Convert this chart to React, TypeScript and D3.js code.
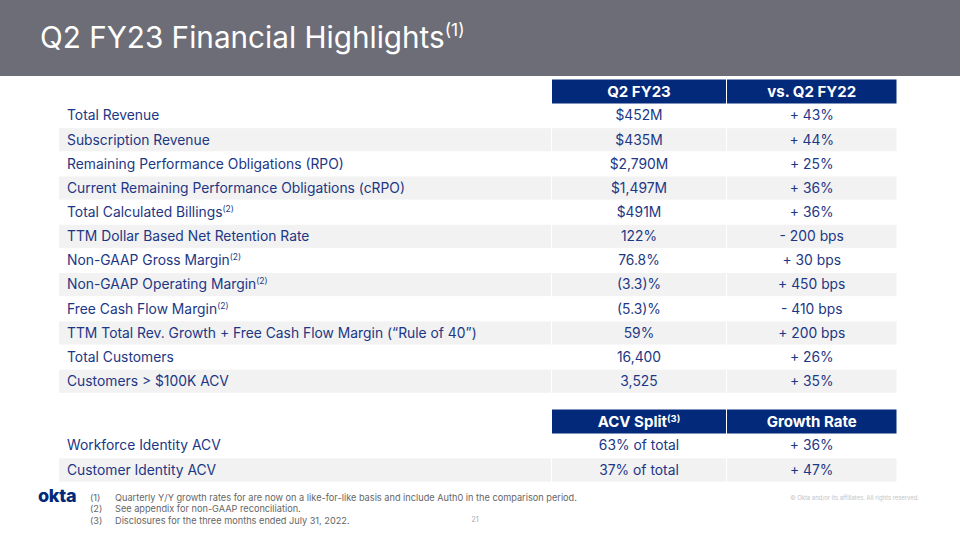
import React from "react";
import * as d3 from "d3";

const metrics = [
  "Total Revenue",
  "Subscription Revenue",
  "Remaining Performance Obligations (RPO)",
  "Current Remaining Performance Obligations (cRPO)",
  "Total Calculated Billings",
  "TTM Dollar Based Net Retention Rate",
  "Non-GAAP Gross Margin",
  "Non-GAAP Operating Margin",
  "Free Cash Flow Margin",
  "TTM Total Rev. Growth + Free Cash Flow Margin (\u201CRule of 40\u201D)",
  "Total Customers",
  "Customers > $100K ACV",
];
const metricNotes = ["", "", "", "", "(2)", "", "(2)", "(2)", "(2)", "", "", ""];
const q2fy23 = ["$452M", "$435M", "$2,790M", "$1,497M", "$491M", "122%", "76.8%", "(3.3)%", "(5.3)%", "59%", "16,400", "3,525"];
const vsQ2fy22 = ["+ 43%", "+ 44%", "+ 25%", "+ 36%", "+ 36%", "- 200 bps", "+ 30 bps", "+ 450 bps", "- 410 bps", "+ 200 bps", "+ 26%", "+ 35%"];
const headers1 = ["Q2 FY23", "vs. Q2 FY22"];
const headerNotes1 = ["", ""];

const acvLabels = ["Workforce Identity ACV", "Customer Identity ACV"];
const acvSplit = ["63% of total", "37% of total"];
const acvGrowth = ["+ 36%", "+ 47%"];
const headers2 = ["ACV Split", "Growth Rate"];
const headerNotes2 = ["(3)", ""];

const footnotes = [
  "Quarterly Y/Y growth rates for are now on a like-for-like basis and include Auth0 in the comparison period.",
  "See appendix for non-GAAP reconciliation.",
  "Disclosures for the three months ended July 31, 2022.",
];

const NAVY = "#03297a";
const TEXT = "#1c3785";
const GRAY = "#f2f2f2";
const FONT = "Inter, 'Open Sans', sans-serif";

const colEdges = [59, 551.5, 726.5, 897];

function Table({
  top, headerH, rowH, labels, notes, c1, c2, heads, headNotes,
}: any) {
  const n = labels.length;
  const y = d3.scaleBand<number>().domain(d3.range(n)).range([top + headerH, top + headerH + rowH * n]).paddingInner(0).paddingOuter(0);
  const cols = [0, 1, 2].map((i) => ({ x0: colEdges[i], x1: colEdges[i + 1] }));
  const gap = 1;
  return (
    <g>
      {heads.map((h: string, i: number) => {
        const c = cols[i + 1];
        return (
          <g key={"h" + i}>
            <rect x={c.x0 + gap / 2} y={top} width={c.x1 - c.x0 - gap} height={headerH} fill={NAVY} />
            <text x={(c.x0 + c.x1) / 2} y={top + headerH / 2 + 5.2} textAnchor="middle" fill="#fff" fontSize={15} fontWeight={700} fontFamily={FONT}>
              {h}
              {headNotes[i] ? <tspan fontSize={9.5} dy={-5}>{headNotes[i]}</tspan> : null}
            </text>
          </g>
        );
      })}
      {labels.map((lab: string, r: number) => {
        const yy = y(r)!;
        const cy = yy + y.bandwidth() / 2 + 4.8;
        return (
          <g key={"r" + r}>
            {r % 2 === 1 &&
              cols.map((c, i) => (
                <rect key={i} x={c.x0 + (i === 0 ? 0 : gap / 2)} y={yy + 0.5} width={c.x1 - c.x0 - (i === 0 ? gap / 2 : gap)} height={y.bandwidth() - 1} fill={GRAY} />
              ))}
            <text x={67} y={cy} fill={TEXT} fontSize={13.85} fontFamily={FONT}>
              {lab}
              {notes[r] ? <tspan fontSize={8.5} dy={-5}>{notes[r]}</tspan> : null}
            </text>
            <text x={(cols[1].x0 + cols[1].x1) / 2} y={cy} textAnchor="middle" fill={TEXT} fontSize={13.85} fontFamily={FONT}>{c1[r]}</text>
            <text x={(cols[2].x0 + cols[2].x1) / 2} y={cy} textAnchor="middle" fill={TEXT} fontSize={13.85} fontFamily={FONT}>{c2[r]}</text>
          </g>
        );
      })}
    </g>
  );
}

export default function App() {
  return (
    <svg width={960} height={540} style={{ position: "absolute", left: 0, top: 0, background: "#fff" }}>
      <rect x={0} y={0} width={960} height={76} fill="#6d6d77" />
      <text x={40} y={48} fill="#fff" fontSize={29.7} fontFamily={FONT}>
        Q2 FY23 Financial Highlights
        <tspan fontSize={17.5} dy={-12}>(1)</tspan>
      </text>
      <Table top={79.5} headerH={24} rowH={24.15} labels={metrics} notes={metricNotes} c1={q2fy23} c2={vsQ2fy22} heads={headers1} headNotes={headerNotes1} />
      <Table top={409.5} headerH={24} rowH={24.3} labels={acvLabels} notes={["", ""]} c1={acvSplit} c2={acvGrowth} heads={headers2} headNotes={headerNotes2} />
      <text x={38} y={502} fill={NAVY} fontSize={18} fontWeight={800} fontFamily={FONT} letterSpacing={-0.3}>okta</text>
      {footnotes.map((f, i) => (
        <g key={i}>
          <text x={90} y={501 + i * 11.3} fill="#666" fontSize={9.2} fontFamily={FONT}>{`(${i + 1})`}</text>
          <text x={115} y={501 + i * 11.3} fill="#666" fontSize={9.2} fontFamily={FONT}>{f}</text>
        </g>
      ))}
      <text x={475} y={522} fill="#aaa" fontSize={7} fontFamily={FONT} textAnchor="middle">21</text>
      <text x={919} y={500} fill="#c4c4c4" fontSize={5.9} fontFamily={FONT} textAnchor="end">© Okta and/or its affiliates. All rights reserved.</text>
    </svg>
  );
}
